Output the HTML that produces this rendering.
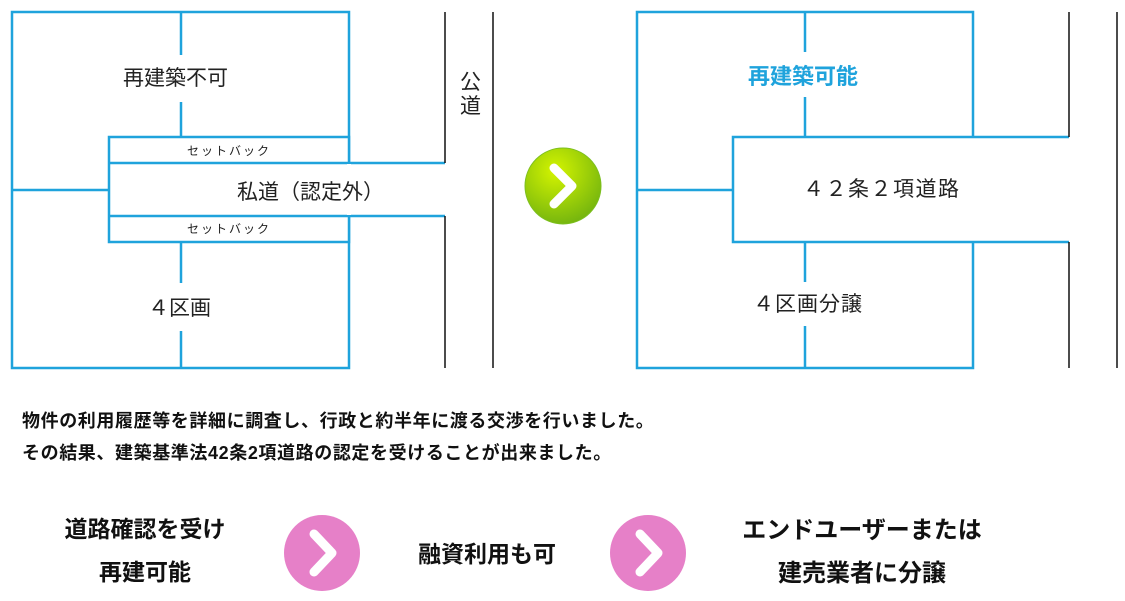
<!DOCTYPE html>
<html><head><meta charset="utf-8"><style>
body{margin:0;background:#fff;width:1125px;height:601px;overflow:hidden;position:relative;font-family:"Liberation Sans","Noto Sans CJK JP",sans-serif}
.t{position:absolute;white-space:nowrap;color:#222}
</style></head><body>
<svg width="1125" height="601" style="position:absolute;left:0;top:0">
<g stroke="#1fa3dc" stroke-width="2.5" fill="none">
<rect x="12" y="12" width="337" height="356"/>
<line x1="181" y1="12" x2="181" y2="55"/><line x1="181" y1="102" x2="181" y2="137"/>
<line x1="181" y1="242" x2="181" y2="283"/><line x1="181" y1="331" x2="181" y2="368"/>
<line x1="12" y1="190" x2="109" y2="190"/>
<rect x="109" y="137" width="240" height="105" fill="#fff"/>
<line x1="109" y1="163" x2="445" y2="163"/><line x1="109" y1="216" x2="445" y2="216"/>
<line x1="349" y1="164" x2="349" y2="215" stroke="#fff" stroke-width="4"/>
<rect x="637" y="12" width="336" height="356"/>
<line x1="805" y1="12" x2="805" y2="52"/><line x1="805" y1="97" x2="805" y2="137"/>
<line x1="805" y1="242" x2="805" y2="282"/><line x1="805" y1="326" x2="805" y2="368"/>
<line x1="637" y1="190" x2="733" y2="190"/>
<path d="M1069 137 H733 V242 H1069" fill="#fff"/>
<line x1="973" y1="138.5" x2="973" y2="240.5" stroke="#fff" stroke-width="4"/>
</g>
<g stroke="#111" stroke-width="1.5">
<line x1="445" y1="12" x2="445" y2="163"/><line x1="445" y1="216" x2="445" y2="368"/>
<line x1="493" y1="12" x2="493" y2="368"/>
<line x1="1069" y1="12" x2="1069" y2="137"/><line x1="1069" y1="242" x2="1069" y2="368"/>
<line x1="1117" y1="12" x2="1117" y2="368"/>
</g>
<defs><radialGradient id="g" cx="0.4" cy="0.3" r="0.8"><stop offset="0" stop-color="#d4f400"/><stop offset="1" stop-color="#6aae10"/></radialGradient></defs>
<ellipse cx="563" cy="186" rx="38" ry="38" fill="url(#g)" stroke="#7cbf20" stroke-width="1"/>
<polyline points="554,168 572,186 554,204" stroke="#fff" stroke-width="9" fill="none" stroke-linecap="round" stroke-linejoin="round"/>
<circle cx="322" cy="553" r="38" fill="#e680c8"/>
<polyline points="314,534 332,553 314,572" stroke="#fff" stroke-width="9" fill="none" stroke-linecap="round" stroke-linejoin="round"/>
<circle cx="648" cy="553" r="38" fill="#e680c8"/>
<polyline points="640,534 658,553 640,572" stroke="#fff" stroke-width="9" fill="none" stroke-linecap="round" stroke-linejoin="round"/>
</svg>
<div class="t" style="left:123px;top:62px;font-size:21px">再建築不可</div>
<div class="t" style="left:187px;top:142px;font-size:12px;letter-spacing:2px">セットバック</div>
<div class="t" style="left:187px;top:220px;font-size:12px;letter-spacing:2px">セットバック</div>
<div class="t" style="left:237px;top:176px;font-size:21px">私道（認定外）</div>
<div class="t" style="left:460px;top:71px;font-size:21px;line-height:24px">公<br>道</div>
<div class="t" style="left:148px;top:292px;font-size:21px">４区画</div>
<div class="t" style="left:748px;top:59px;font-size:22px;font-weight:bold;color:#1fa3dc">再建築可能</div>
<div class="t" style="left:803px;top:173px;font-size:21px;letter-spacing:1.5px">４２条２項道路</div>
<div class="t" style="left:753px;top:288px;font-size:21px;letter-spacing:1px">４区画分譲</div>
<div class="t" style="left:22px;top:405px;font-size:18px;font-weight:bold;letter-spacing:0.6px;line-height:32px;color:#111">物件の利用履歴等を詳細に調査し、行政と約半年に渡る交渉を行いました。<br>その結果、建築基準法42条2項道路の認定を受けることが出来ました。</div>
<div class="t" style="left:35px;top:508px;width:220px;text-align:center;font-size:23px;font-weight:bold;line-height:43px;color:#111">道路確認を受け<br>再建可能</div>
<div class="t" style="left:418px;top:535px;font-size:23px;font-weight:bold;color:#111">融資利用も可</div>
<div class="t" style="left:732px;top:509px;width:260px;text-align:center;font-size:24px;font-weight:bold;line-height:43px;color:#111">エンドユーザーまたは<br>建売業者に分譲</div>
</body></html>
